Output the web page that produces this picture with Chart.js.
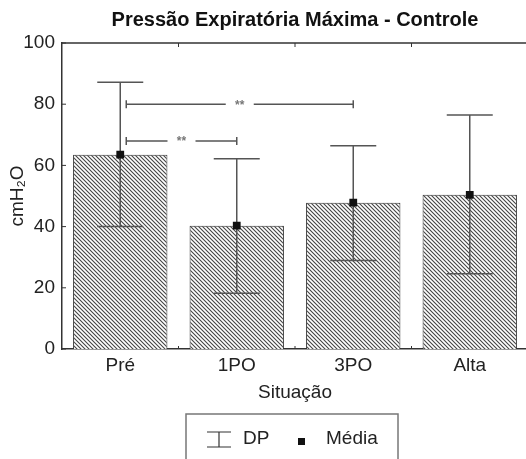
<!DOCTYPE html>
<html>
<head>
<meta charset="utf-8">
<script src="https://cdn.jsdelivr.net/npm/chart.js@4.4.0/dist/chart.umd.min.js"></script>
<style>
  html, body { margin: 0; padding: 0; background: #fff; overflow: hidden; }
  #wrap { width: 540px; height: 470px; }
</style>
</head>
<body>
<div id="wrap"><canvas id="chart" width="540" height="470"></canvas></div>
<script>
const categories = ["Pré", "1PO", "3PO", "Alta"];
const means = [63.5, 40.3, 47.8, 50.4];
const sdUpper = [87.2, 62.2, 66.4, 76.5];
const sdLower = [40.0, 18.2, 28.9, 24.6];
const yTicks = [0, 20, 40, 60, 80, 100];
// significance brackets: from category, to category, height
const bracketFrom = [0, 0];
const bracketTo = [1, 2];
const bracketY = [68, 80];
const bracketText = ["**", "**"];

const FONT = "Arial, 'Liberation Sans', Helvetica, sans-serif";
const ctx = document.getElementById("chart").getContext("2d");

// diagonal hatch for bars
function makeHatch() {
  const p = document.createElement("canvas");
  p.width = 4;
  p.height = 4;
  const g = p.getContext("2d");
  g.fillStyle = "#fff";
  g.fillRect(0, 0, 4, 4);
  g.strokeStyle = "#444";
  g.lineWidth = 1.1;
  g.beginPath();
  g.moveTo(-1, -1); g.lineTo(5, 5);
  g.moveTo(-1, 3); g.lineTo(1, 5);
  g.moveTo(3, -1); g.lineTo(5, 1);
  g.stroke();
  return ctx.createPattern(p, "repeat");
}

const extras = {
  id: "extras",
  afterDatasetDraw(chart, args) {
    if (args.meta.type !== "bar") return;
    const c = chart.ctx;
    const x = chart.scales.x, y = chart.scales.y;
    c.save();
    c.strokeStyle = "#555";
    c.lineWidth = 1.5;
    categories.forEach((_, i) => {
      const px = x.getPixelForValue(i);
      const top = y.getPixelForValue(sdUpper[i]);
      const bot = y.getPixelForValue(sdLower[i]);
      c.beginPath();
      c.moveTo(px, top); c.lineTo(px, bot);
      c.moveTo(px - 23, top); c.lineTo(px + 23, top);
      c.moveTo(px - 23, bot); c.lineTo(px + 23, bot);
      c.stroke();
    });
    c.restore();
  },
  afterDraw(chart) {
    const c = chart.ctx;
    const a = chart.chartArea;
    const x = chart.scales.x, y = chart.scales.y;
    c.save();
    c.strokeStyle = "#333";
    c.lineWidth = 1.5;
    // top frame line
    c.beginPath();
    c.moveTo(a.left, a.top); c.lineTo(a.right, a.top);
    c.stroke();
    // boundary ticks on top and bottom
    c.lineWidth = 1;
    for (let i = 0; i < categories.length - 1; i++) {
      const bx = (x.getPixelForValue(i) + x.getPixelForValue(i + 1)) / 2;
      c.beginPath();
      c.moveTo(bx, a.top); c.lineTo(bx, a.top + 4);
      c.moveTo(bx, a.bottom); c.lineTo(bx, a.bottom - 3);
      c.stroke();
    }
    // inward y ticks
    yTicks.forEach(v => {
      const py = y.getPixelForValue(v);
      c.beginPath();
      c.moveTo(a.left, py); c.lineTo(a.left + 4, py);
      c.stroke();
    });

    // brackets
    c.strokeStyle = "#555";
    c.lineWidth = 1.5;
    c.fillStyle = "#777";
    c.font = "bold 12px " + FONT;
    c.textAlign = "center";
    c.textBaseline = "middle";
    bracketY.forEach((v, k) => {
      const x1 = x.getPixelForValue(bracketFrom[k]) + 6;
      const x2 = x.getPixelForValue(bracketTo[k]);
      const py = y.getPixelForValue(v);
      const mid = (x1 + x2) / 2;
      c.beginPath();
      c.moveTo(x1, py - 4); c.lineTo(x1, py + 4);
      c.moveTo(x2, py - 4); c.lineTo(x2, py + 4);
      c.moveTo(x1, py); c.lineTo(mid - 14, py);
      c.moveTo(mid + 14, py); c.lineTo(x2, py);
      c.stroke();
      c.fillText(bracketText[k], mid, py + 1);
    });

    // legend box
    c.strokeStyle = "#777";
    c.lineWidth = 1.5;
    c.strokeRect(186, 414, 212, 70);
    c.strokeStyle = "#333";
    c.lineWidth = 1.2;
    c.beginPath();
    c.moveTo(207, 432); c.lineTo(231, 432);
    c.moveTo(207, 447); c.lineTo(231, 447);
    c.moveTo(219, 432); c.lineTo(219, 447);
    c.stroke();
    c.fillStyle = "#111";
    c.fillRect(298, 438, 7, 7);
    c.fillStyle = "#222";
    c.font = "19px " + FONT;
    c.textAlign = "left";
    c.fillText("DP", 243, 439);
    c.fillText("Média", 326, 439);
    c.restore();
  }
};

new Chart(ctx, {
  data: {
    labels: categories,
    datasets: [
      {
        type: "bar",
        label: "Média",
        data: means,
        backgroundColor: makeHatch(),
        borderColor: "#333",
        borderWidth: 1,
        barPercentage: 0.81,
        categoryPercentage: 1,
        order: 2,
      },
      {
        type: "line",
        label: "Média",
        data: means,
        showLine: false,
        pointStyle: "rect",
        pointRadius: 5.5,
        pointBackgroundColor: "#111",
        pointBorderColor: "#111",
        pointBorderWidth: 0,
        order: 1,
      },
    ],
  },
  options: {
    responsive: false,
    animation: false,
    layout: { padding: { left: 0, right: 12, top: 0, bottom: 61 } },
    plugins: {
      legend: { display: false },
      tooltip: { enabled: false },
      title: {
        display: true,
        fullSize: false,
        text: "Pressão Expiratória Máxima - Controle",
        color: "#111",
        font: { family: FONT, size: 20, weight: "bold" },
        padding: { top: 8, bottom: 11 },
      },
    },
    scales: {
      x: {
        offset: true,
        grid: { display: false, drawTicks: false },
        border: { display: true, color: "#333", width: 1.5 },
        ticks: { color: "#222", font: { family: FONT, size: 19 }, padding: 5 },
        title: {
          display: true,
          text: "Situação",
          color: "#222",
          font: { family: FONT, size: 19 },
          padding: { top: 0, bottom: 5 },
        },
        afterFit: (s) => { s.height = 60; },
      },
      y: {
        min: 0,
        max: 100,
        afterBuildTicks: (s) => { s.ticks = yTicks.map(v => ({ value: v })); },
        grid: { display: false, drawTicks: false },
        border: { display: true, color: "#333", width: 1.5 },
        ticks: { color: "#222", font: { family: FONT, size: 19 }, padding: 7 },
        title: {
          display: true,
          text: "cmH₂O",
          color: "#222",
          font: { family: FONT, size: 19 },
          padding: { top: 6, bottom: 0 },
        },
        afterFit: (s) => { s.width = 62; },
      },
    },
  },
  plugins: [extras],
});
</script>
</body>
</html>
